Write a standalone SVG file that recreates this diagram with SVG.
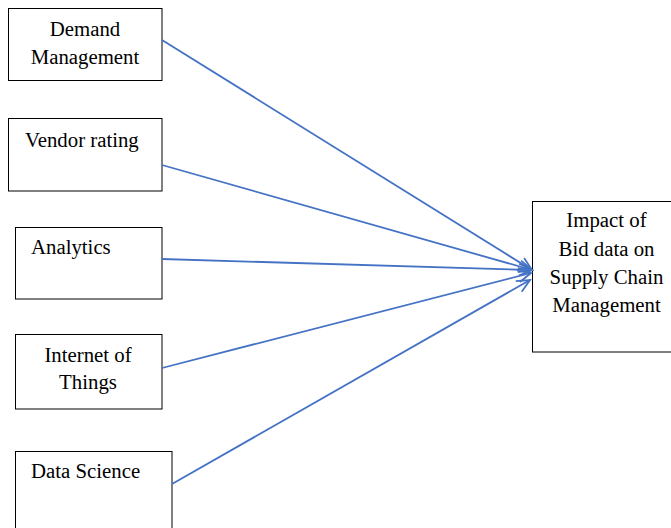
<svg xmlns="http://www.w3.org/2000/svg" width="671" height="528" viewBox="0 0 671 528">
<style>
.box{fill:#fff;stroke:#000;stroke-width:1}
.t{font-family:"Liberation Serif","Times New Roman",serif;font-size:20.8px;fill:#000}
.c{text-anchor:middle}
.conn line{stroke:#4472C4;stroke-width:1.8;fill:none}
</style>
<defs>
<marker id="ah" markerWidth="16" markerHeight="14" refX="14" refY="7" orient="auto" markerUnits="userSpaceOnUse">
<path d="M1,1 L14,7 L1,13" fill="none" stroke="#4472C4" stroke-width="1.8"/>
</marker>
</defs>
<rect width="671" height="528" fill="#fff"/>
<g id="n1"><rect class="box" x="8.5" y="8.5" width="153.5" height="72"/><text class="t c" x="85" y="36">Demand</text><text class="t c" x="85" y="64">Management</text></g>
<g id="n2"><rect class="box" x="8.5" y="118.5" width="153.5" height="72.5"/><text class="t" x="25" y="147">Vendor rating</text></g>
<g id="n3"><rect class="box" x="15.5" y="227.5" width="146.5" height="71.5"/><text class="t" x="31" y="254">Analytics</text></g>
<g id="n4"><rect class="box" x="15.5" y="334.5" width="146.5" height="74.5"/><text class="t c" x="88" y="362">Internet of</text><text class="t c" x="88" y="389">Things</text></g>
<g id="n5"><rect class="box" x="15.5" y="451.5" width="156.5" height="90"/><text class="t" x="31" y="478">Data Science</text></g>
<g id="n6"><rect class="box" x="532.5" y="201.5" width="150" height="150.5"/><text class="t c" x="606.5" y="227">Impact of</text><text class="t c" x="606.5" y="256">Bid data on</text><text class="t c" x="606.5" y="284">Supply Chain</text><text class="t c" x="606.5" y="312">Management</text></g>
<g class="conn">
<line x1="162" y1="40" x2="532" y2="270" marker-end="url(#ah)"/>
<line x1="162" y1="165" x2="532" y2="270" marker-end="url(#ah)"/>
<line x1="162" y1="259" x2="532" y2="270" marker-end="url(#ah)"/>
<line x1="162" y1="368" x2="531" y2="273" marker-end="url(#ah)"/>
<line x1="172" y1="484" x2="530" y2="280" marker-end="url(#ah)"/>
</g>
</svg>
